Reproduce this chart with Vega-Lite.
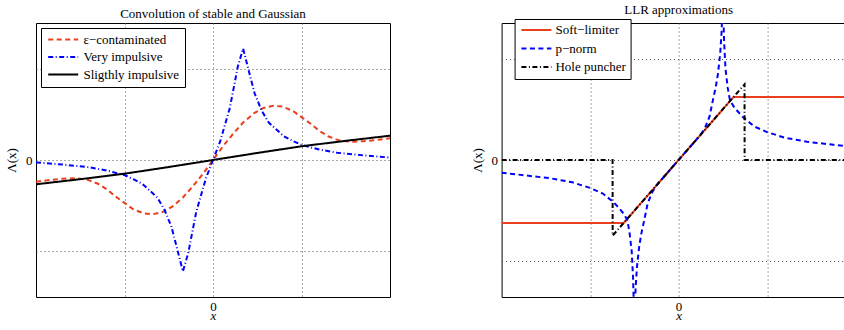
{
  "$schema": "https://vega.github.io/schema/vega-lite/v6.json",
  "background": "white",
  "padding": {"left": 5, "top": 3, "right": 0, "bottom": 0},
  "spacing": 111.6,
  "bounds": "flush",
  "resolve": {
    "scale": {"color": "independent", "strokeDash": "independent"},
    "legend": {"color": "independent", "strokeDash": "independent"}
  },
  "config": {
    "font": "Liberation Serif, Times New Roman, serif",
    "view": {"stroke": "black", "strokeWidth": 1},
    "title": {"font": "Liberation Serif, Times New Roman, serif", "fontSize": 13, "fontWeight": "normal", "color": "black", "offset": 2, "frame": "group", "anchor": "middle"},
    "axis": {
      "grid": true,
      "gridDash": [1, 3],
      "gridColor": "#555",
      "gridWidth": 1,
      "domain": false,
      "ticks": false,
      "labelFont": "Liberation Serif, Times New Roman, serif",
      "titleFont": "Liberation Serif, Times New Roman, serif",
      "labelFontSize": 13,
      "labelColor": "black",
      "titleFontSize": 13,
      "titleFontWeight": "normal",
      "titleColor": "black"
    },
    "legend": {
      "orient": "none",
      "title": null,
      "fillColor": "white",
      "strokeColor": "black",
      "strokeWidth": 1,
      "symbolType": "M-3,0H3",
      "symbolSize": 100,
      "symbolStrokeWidth": 2,
      "labelFont": "Liberation Serif, Times New Roman, serif",
      "labelFontSize": 13,
      "labelColor": "black",
      "labelLimit": 200
    }
  },
  "datasets": {
    "conv": [
      {"series": "ε−contaminated", "x": -2.0, "y": -0.237},
      {"series": "ε−contaminated", "x": -1.85, "y": -0.22},
      {"series": "ε−contaminated", "x": -1.7, "y": -0.205},
      {"series": "ε−contaminated", "x": -1.55, "y": -0.2},
      {"series": "ε−contaminated", "x": -1.42, "y": -0.215},
      {"series": "ε−contaminated", "x": -1.3, "y": -0.26},
      {"series": "ε−contaminated", "x": -1.2, "y": -0.32},
      {"series": "ε−contaminated", "x": -1.1, "y": -0.4},
      {"series": "ε−contaminated", "x": -1.0, "y": -0.47},
      {"series": "ε−contaminated", "x": -0.9, "y": -0.54},
      {"series": "ε−contaminated", "x": -0.78, "y": -0.585},
      {"series": "ε−contaminated", "x": -0.68, "y": -0.594},
      {"series": "ε−contaminated", "x": -0.57, "y": -0.57},
      {"series": "ε−contaminated", "x": -0.46, "y": -0.51},
      {"series": "ε−contaminated", "x": -0.34, "y": -0.41},
      {"series": "ε−contaminated", "x": -0.23, "y": -0.29},
      {"series": "ε−contaminated", "x": -0.12, "y": -0.16},
      {"series": "ε−contaminated", "x": 0.0, "y": 0.0},
      {"series": "ε−contaminated", "x": 0.12, "y": 0.16},
      {"series": "ε−contaminated", "x": 0.23, "y": 0.29},
      {"series": "ε−contaminated", "x": 0.34, "y": 0.41},
      {"series": "ε−contaminated", "x": 0.46, "y": 0.51},
      {"series": "ε−contaminated", "x": 0.57, "y": 0.57},
      {"series": "ε−contaminated", "x": 0.68, "y": 0.594},
      {"series": "ε−contaminated", "x": 0.78, "y": 0.585},
      {"series": "ε−contaminated", "x": 0.9, "y": 0.54},
      {"series": "ε−contaminated", "x": 1.0, "y": 0.47},
      {"series": "ε−contaminated", "x": 1.1, "y": 0.4},
      {"series": "ε−contaminated", "x": 1.2, "y": 0.32},
      {"series": "ε−contaminated", "x": 1.3, "y": 0.26},
      {"series": "ε−contaminated", "x": 1.42, "y": 0.215},
      {"series": "ε−contaminated", "x": 1.55, "y": 0.2},
      {"series": "ε−contaminated", "x": 1.7, "y": 0.205},
      {"series": "ε−contaminated", "x": 1.85, "y": 0.22},
      {"series": "ε−contaminated", "x": 2.0, "y": 0.237},

      {"series": "Very impulsive", "x": -2.0, "y": -0.027},
      {"series": "Very impulsive", "x": -1.7, "y": -0.05},
      {"series": "Very impulsive", "x": -1.4, "y": -0.08},
      {"series": "Very impulsive", "x": -1.2, "y": -0.115},
      {"series": "Very impulsive", "x": -1.0, "y": -0.165},
      {"series": "Very impulsive", "x": -0.9, "y": -0.21},
      {"series": "Very impulsive", "x": -0.8, "y": -0.26},
      {"series": "Very impulsive", "x": -0.72, "y": -0.33},
      {"series": "Very impulsive", "x": -0.63, "y": -0.41},
      {"series": "Very impulsive", "x": -0.55, "y": -0.54},
      {"series": "Very impulsive", "x": -0.47, "y": -0.73},
      {"series": "Very impulsive", "x": -0.39, "y": -1.03},
      {"series": "Very impulsive", "x": -0.34, "y": -1.22},
      {"series": "Very impulsive", "x": -0.28, "y": -1.02},
      {"series": "Very impulsive", "x": -0.19, "y": -0.57},
      {"series": "Very impulsive", "x": -0.08, "y": -0.2},
      {"series": "Very impulsive", "x": 0.0, "y": 0.0},
      {"series": "Very impulsive", "x": 0.08, "y": 0.2},
      {"series": "Very impulsive", "x": 0.19, "y": 0.57},
      {"series": "Very impulsive", "x": 0.28, "y": 1.02},
      {"series": "Very impulsive", "x": 0.34, "y": 1.22},
      {"series": "Very impulsive", "x": 0.39, "y": 1.03},
      {"series": "Very impulsive", "x": 0.47, "y": 0.73},
      {"series": "Very impulsive", "x": 0.55, "y": 0.54},
      {"series": "Very impulsive", "x": 0.63, "y": 0.41},
      {"series": "Very impulsive", "x": 0.72, "y": 0.33},
      {"series": "Very impulsive", "x": 0.8, "y": 0.26},
      {"series": "Very impulsive", "x": 0.9, "y": 0.21},
      {"series": "Very impulsive", "x": 1.0, "y": 0.165},
      {"series": "Very impulsive", "x": 1.2, "y": 0.115},
      {"series": "Very impulsive", "x": 1.4, "y": 0.08},
      {"series": "Very impulsive", "x": 1.7, "y": 0.05},
      {"series": "Very impulsive", "x": 2.0, "y": 0.027},

      {"series": "Sligthly impulsive", "x": -2.0, "y": -0.266},
      {"series": "Sligthly impulsive", "x": -1.5, "y": -0.21},
      {"series": "Sligthly impulsive", "x": -1.0, "y": -0.15},
      {"series": "Sligthly impulsive", "x": -0.5, "y": -0.077},
      {"series": "Sligthly impulsive", "x": 0.0, "y": 0.0},
      {"series": "Sligthly impulsive", "x": 0.5, "y": 0.077},
      {"series": "Sligthly impulsive", "x": 1.0, "y": 0.15},
      {"series": "Sligthly impulsive", "x": 1.5, "y": 0.21},
      {"series": "Sligthly impulsive", "x": 2.0, "y": 0.266}
    ],
    "llr": [
      {"series": "Soft−limiter", "x": -2.0, "y": -0.62},
      {"series": "Soft−limiter", "x": -0.62, "y": -0.62},
      {"series": "Soft−limiter", "x": 0.62, "y": 0.62},
      {"series": "Soft−limiter", "x": 2.0, "y": 0.62},

      {"series": "p−norm", "x": -2.0, "y": -0.125},
      {"series": "p−norm", "x": -1.75, "y": -0.15},
      {"series": "p−norm", "x": -1.45, "y": -0.18},
      {"series": "p−norm", "x": -1.2, "y": -0.22},
      {"series": "p−norm", "x": -1.0, "y": -0.275},
      {"series": "p−norm", "x": -0.856, "y": -0.33},
      {"series": "p−norm", "x": -0.73, "y": -0.42},
      {"series": "p−norm", "x": -0.667, "y": -0.48},
      {"series": "p−norm", "x": -0.62, "y": -0.53},
      {"series": "p−norm", "x": -0.58, "y": -0.59},
      {"series": "p−norm", "x": -0.555, "y": -0.71},
      {"series": "p−norm", "x": -0.53, "y": -0.9},
      {"series": "p−norm", "x": -0.515, "y": -1.15},
      {"series": "p−norm", "x": -0.5, "y": -1.6},
      {"series": "p−norm", "x": -0.485, "y": -1.25},
      {"series": "p−norm", "x": -0.47, "y": -1.05},
      {"series": "p−norm", "x": -0.445, "y": -0.85},
      {"series": "p−norm", "x": -0.42, "y": -0.72},
      {"series": "p−norm", "x": -0.39, "y": -0.6},
      {"series": "p−norm", "x": -0.35, "y": -0.43},
      {"series": "p−norm", "x": -0.3, "y": -0.32},
      {"series": "p−norm", "x": -0.25, "y": -0.25},
      {"series": "p−norm", "x": -0.2, "y": -0.2},
      {"series": "p−norm", "x": -0.1, "y": -0.1},
      {"series": "p−norm", "x": 0.0, "y": 0.0},
      {"series": "p−norm", "x": 0.1, "y": 0.1},
      {"series": "p−norm", "x": 0.2, "y": 0.2},
      {"series": "p−norm", "x": 0.25, "y": 0.25},
      {"series": "p−norm", "x": 0.3, "y": 0.32},
      {"series": "p−norm", "x": 0.35, "y": 0.43},
      {"series": "p−norm", "x": 0.39, "y": 0.6},
      {"series": "p−norm", "x": 0.42, "y": 0.72},
      {"series": "p−norm", "x": 0.445, "y": 0.85},
      {"series": "p−norm", "x": 0.47, "y": 1.05},
      {"series": "p−norm", "x": 0.485, "y": 1.25},
      {"series": "p−norm", "x": 0.5, "y": 1.6},
      {"series": "p−norm", "x": 0.515, "y": 1.15},
      {"series": "p−norm", "x": 0.53, "y": 0.9},
      {"series": "p−norm", "x": 0.555, "y": 0.71},
      {"series": "p−norm", "x": 0.58, "y": 0.59},
      {"series": "p−norm", "x": 0.62, "y": 0.53},
      {"series": "p−norm", "x": 0.667, "y": 0.48},
      {"series": "p−norm", "x": 0.73, "y": 0.42},
      {"series": "p−norm", "x": 0.856, "y": 0.33},
      {"series": "p−norm", "x": 1.0, "y": 0.275},
      {"series": "p−norm", "x": 1.2, "y": 0.22},
      {"series": "p−norm", "x": 1.45, "y": 0.18},
      {"series": "p−norm", "x": 1.75, "y": 0.15},
      {"series": "p−norm", "x": 2.0, "y": 0.125},

      {"series": "Hole puncher", "x": -2.0, "y": 0.0},
      {"series": "Hole puncher", "x": -0.746, "y": 0.0},
      {"series": "Hole puncher", "x": -0.745, "y": -0.745},
      {"series": "Hole puncher", "x": 0.745, "y": 0.745},
      {"series": "Hole puncher", "x": 0.746, "y": 0.0},
      {"series": "Hole puncher", "x": 2.0, "y": 0.0}
    ]
  },
  "hconcat": [
    {
      "title": "Convolution of stable and Gaussian",
      "width": 354,
      "height": 274,
      "data": {"name": "conv"},
      "mark": {"type": "line", "clip": true, "strokeWidth": 2},
      "encoding": {
        "x": {
          "field": "x", "type": "quantitative",
          "scale": {"domain": [-2, 2], "nice": false, "zero": false},
          "axis": {"values": [-1, 0, 1], "labelExpr": "datum.value === 0 ? '0' : ''", "title": "x", "titleFontStyle": "italic", "labelPadding": 3, "titlePadding": -4}
        },
        "y": {
          "field": "y", "type": "quantitative",
          "scale": {"domain": [-1.5, 1.5], "nice": false, "zero": false},
          "axis": {"values": [-1, 0, 1], "labelExpr": "datum.value === 0 ? '0' : ''", "title": "Λ(x)", "labelPadding": 4, "titlePadding": 7}
        },
        "color": {
          "field": "series", "type": "nominal",
          "scale": {"domain": ["ε−contaminated", "Very impulsive", "Sligthly impulsive"], "range": ["#e8401c", "#0000ff", "#000000"]},
          "legend": {"legendX": 5, "legendY": 5, "padding": 5, "symbolOffset": 10.7, "rowPadding": 3.5, "labelOffset": 13.7}
        },
        "strokeDash": {
          "field": "series", "type": "nominal",
          "scale": {"domain": ["ε−contaminated", "Very impulsive", "Sligthly impulsive"], "range": [[5, 3.5], [5, 2.5, 1, 2.5], [1, 0]]},
          "legend": {"legendX": 5, "legendY": 5, "padding": 5, "symbolOffset": 10.7, "rowPadding": 3.5, "labelOffset": 13.7}
        }
      }
    },
    {
      "title": "LLR approximations",
      "width": 354,
      "height": 274,
      "data": {"name": "llr"},
      "mark": {"type": "line", "clip": true, "strokeWidth": 2},
      "encoding": {
        "x": {
          "field": "x", "type": "quantitative",
          "scale": {"domain": [-2, 2], "nice": false, "zero": false},
          "axis": {"values": [-1, 0, 1], "labelExpr": "datum.value === 0 ? '0' : ''", "title": "x", "titleFontStyle": "italic", "labelPadding": 3, "titlePadding": -4}
        },
        "y": {
          "field": "y", "type": "quantitative",
          "scale": {"domain": [-1.35, 1.35], "nice": false, "zero": false},
          "axis": {"values": [-1, 0, 1], "labelExpr": "datum.value === 0 ? '0' : ''", "title": "Λ(x)", "labelPadding": 4, "titlePadding": 7}
        },
        "color": {
          "field": "series", "type": "nominal",
          "scale": {"domain": ["Soft−limiter", "p−norm", "Hole puncher"], "range": ["#e8401c", "#0000ff", "#000000"]},
          "legend": {"legendX": 13, "legendY": -4, "padding": 4.5, "symbolOffset": 10.8, "rowPadding": 4.5, "labelOffset": 12.5}
        },
        "strokeDash": {
          "field": "series", "type": "nominal",
          "scale": {"domain": ["Soft−limiter", "p−norm", "Hole puncher"], "range": [[1, 0], [5, 3.5], [5, 2.5, 1, 2.5]]},
          "legend": {"legendX": 13, "legendY": -4, "padding": 4.5, "symbolOffset": 10.8, "rowPadding": 4.5, "labelOffset": 12.5}
        }
      }
    }
  ]
}
